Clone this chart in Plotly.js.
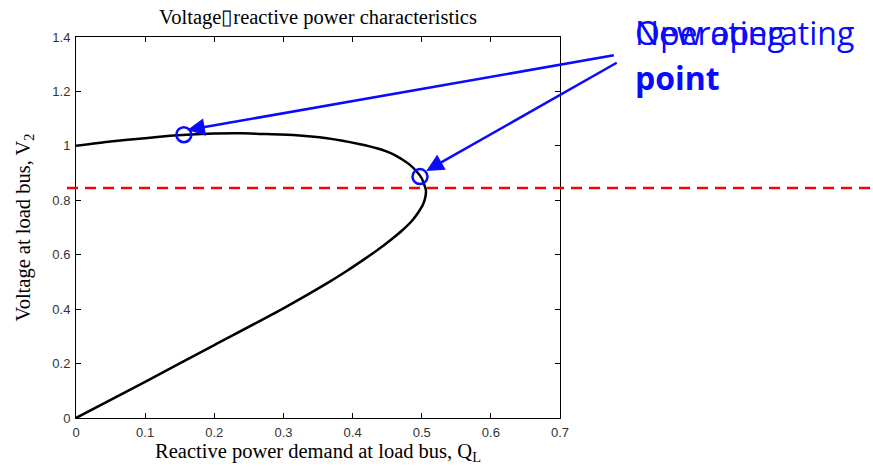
<!DOCTYPE html>
<html>
<head>
<meta charset="utf-8">
<script src="https://cdn.plot.ly/plotly-3.0.1.min.js"></script>
<style>
  html, body { margin: 0; padding: 0; background: #ffffff; }
  #chart { width: 873px; height: 467px; }
</style>
</head>
<body>
<div id="chart"></div>
<script>
// Reactive power demand Q_L along the V-Q curve (upper branch, then lower branch)
const qCurve = [0, 0.05, 0.10, 0.136, 0.16, 0.20, 0.24, 0.266, 0.314, 0.363, 0.411, 0.435, 0.459, 0.473, 0.483, 0.493, 0.500, 0.504, 0.506, 0.5055, 0.502, 0.4955, 0.486, 0.472, 0.456, 0.437, 0.4155, 0.392, 0.367, 0.30, 0.20, 0.10, 0];
// Voltage at load bus V_2
const vCurve = [1.000, 1.016, 1.028, 1.037, 1.041, 1.045, 1.046, 1.044, 1.040, 1.028, 1.006, 0.991, 0.969, 0.948, 0.930, 0.905, 0.881, 0.855, 0.838, 0.815, 0.785, 0.757, 0.725, 0.690, 0.656, 0.619, 0.581, 0.541, 0.501, 0.403, 0.268, 0.133, 0];

// Operating points (old and new)
const qOperating = [0.156, 0.4975];
const vOperating = [1.041, 0.887];

// Voltage limit (red dashed line)
const vLimit = 0.845;

const xTicks = [0, 0.1, 0.2, 0.3, 0.4, 0.5, 0.6, 0.7];
const xTickLabels = ['0', '0.1', '0.2', '0.3', '0.4', '0.5', '0.6', '0.7'];
const yTicks = [0, 0.2, 0.4, 0.6, 0.8, 1, 1.2, 1.4];
const yTickLabels = ['0', '0.2', '0.4', '0.6', '0.8', '1', '1.2', '1.4'];

const BLUE = '#0a0aff';
const SERIF = 'Liberation Serif, Times New Roman, serif';

const traces = [
  {
    x: qCurve, y: vCurve, type: 'scatter', mode: 'lines',
    line: { color: '#000000', width: 2.5, shape: 'spline', smoothing: 0.6 },
    hoverinfo: 'skip', showlegend: false
  },
  {
    x: qOperating, y: vOperating, type: 'scatter', mode: 'markers',
    marker: { symbol: 'circle-open', size: 15, color: BLUE, line: { color: BLUE, width: 2.5 } },
    cliponaxis: false, hoverinfo: 'skip', showlegend: false
  }
];

const axisCommon = {
  showgrid: false, zeroline: false, showline: true, linecolor: '#000000', linewidth: 1,
  mirror: 'ticks', ticks: 'inside', ticklen: 5, tickwidth: 1, tickcolor: '#000000',
  ticklabelstandoff: 2,
  tickfont: { family: 'Liberation Sans, Arial, sans-serif', size: 13, color: '#333333' }
};

const layout = {
  width: 873, height: 467,
  paper_bgcolor: '#ffffff', plot_bgcolor: '#ffffff',
  margin: { l: 76, r: 313, t: 37, b: 49 },
  title: {
    text: 'Voltage\u25AFreactive power characteristics',
    font: { family: SERIF, size: 20.5, color: '#000000' },
    x: 318 / 873, xanchor: 'center', xref: 'container',
    y: 1 - 17 / 467, yanchor: 'middle', yref: 'container'
  },
  xaxis: Object.assign({}, axisCommon, {
    range: [0, 0.7], tickvals: xTicks, ticktext: xTickLabels,
    title: { text: 'Reactive power demand at load bus, Q<sub>L</sub>', standoff: 2,
      font: { family: SERIF, size: 20.5, color: '#000000' } }
  }),
  yaxis: Object.assign({}, axisCommon, {
    range: [0, 1.4], tickvals: yTicks, ticktext: yTickLabels,
    title: { text: 'Voltage at load bus, V<sub>2</sub>', standoff: 16,
      font: { family: SERIF, size: 20.5, color: '#000000' } }
  }),
  shapes: [
    {
      type: 'line', xref: 'paper', yref: 'y',
      x0: (67 - 76) / 484, x1: (870 - 76) / 484, y0: vLimit, y1: vLimit,
      line: { color: '#ff0000', width: 2.5, dash: '11px,7px' }, layer: 'above'
    }
  ],
  annotations: [
    { x: qOperating[0] + 0.005, y: vOperating[0] + 0.017, xref: 'x', yref: 'y', text: '',
      showarrow: true, arrowhead: 2, arrowsize: 1.4, arrowwidth: 2.5, arrowcolor: BLUE,
      ax: 428, ay: -75, axref: 'pixel', ayref: 'pixel', standoff: 0 },
    { x: qOperating[1] + 0.009, y: vOperating[1] + 0.021, xref: 'x', yref: 'y', text: '',
      showarrow: true, arrowhead: 2, arrowsize: 1.4, arrowwidth: 2.5, arrowcolor: BLUE,
      ax: 192, ay: -109, axref: 'pixel', ayref: 'pixel', standoff: 0 },
    { xref: 'paper', yref: 'paper', x: (633 - 76) / 484, y: (418 - 32) / 381, xanchor: 'left', yanchor: 'middle',
      text: 'Operating', showarrow: false, font: { family: 'Open Sans, sans-serif', size: 32, color: BLUE } },
    { xref: 'paper', yref: 'paper', x: (633 - 76) / 484, y: (418 - 32) / 381, xanchor: 'left', yanchor: 'middle',
      text: 'New operating', showarrow: false, font: { family: 'Open Sans, sans-serif', size: 32, color: BLUE } },
    { xref: 'paper', yref: 'paper', x: (633 - 76) / 484, y: (418 - 77) / 381, xanchor: 'left', yanchor: 'middle',
      text: '<b>point</b>', showarrow: false, font: { family: 'Open Sans, sans-serif', size: 32, color: BLUE } }
  ]
};

Plotly.newPlot('chart', traces, layout, { displayModeBar: false, staticPlot: true });
</script>
</body>
</html>
